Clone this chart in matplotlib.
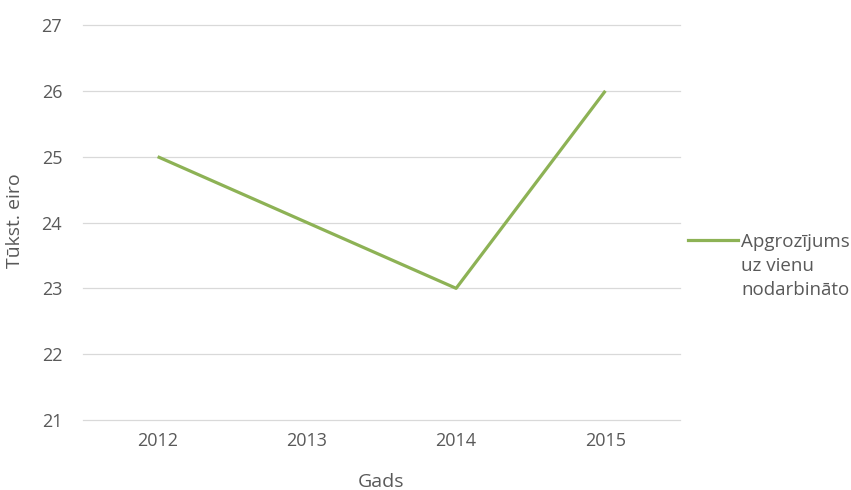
import matplotlib.pyplot as plt
from matplotlib.lines import Line2D
import numpy as np

gadi = ['2012', '2013', '2014', '2015']
apgrozijums = [25, 24, 23, 26]
y_ticks = [21, 22, 23, 24, 25, 26, 27]
nosaukums = 'Apgrozījums\nuz vienu\nnodarbināto'

teksta_krasa = '#595959'
liniju_krasa = '#8db255'
plt.rcParams['font.family'] = ['Open Sans', 'DejaVu Sans']

W, H = 851, 490
fig = plt.figure(figsize=(W / 100, H / 100), dpi=100)
ax = fig.add_axes([83 / W, 1 - 420 / H, 597 / W, 395 / H])

x = np.arange(len(gadi))
ax.plot(x, apgrozijums, color=liniju_krasa, linewidth=2.3,
        solid_capstyle='butt')

ax.set_xlim(-0.5, len(gadi) - 0.5)
ax.set_ylim(21, 27)
ax.set_xticks(x)
ax.set_xticklabels(gadi)
ax.set_yticks(y_ticks)
ax.yaxis.grid(True, color='#d9d9d9', linewidth=0.9)
for gl in ax.get_ygridlines():
    gl.set_clip_on(False)
ax.set_axisbelow(True)
for s in ax.spines.values():
    s.set_visible(False)
ax.tick_params(length=0, colors=teksta_krasa, labelsize=13)
ax.tick_params(axis='x', pad=9)
ax.tick_params(axis='y', pad=15)

# ass nosaukumi
fig.text(381 / W, 1 - 482 / H, 'Gads', color=teksta_krasa, fontsize=14,
         ha='center', va='center')
fig.text(15 / W, 1 - 221 / H, 'Tūkst. eiro', color=teksta_krasa, fontsize=14,
         ha='center', va='center', rotation=90)

# leģenda
fig.add_artist(Line2D([688 / W, 738 / W], [1 - 240 / H, 1 - 240 / H],
                      color=liniju_krasa, linewidth=2.3))
fig.text(741 / W, 1 - 266 / H, nosaukums, color=teksta_krasa, fontsize=13.5,
         ha='left', va='center', linespacing=1.45)

fig.savefig('out.png', dpi=100)
